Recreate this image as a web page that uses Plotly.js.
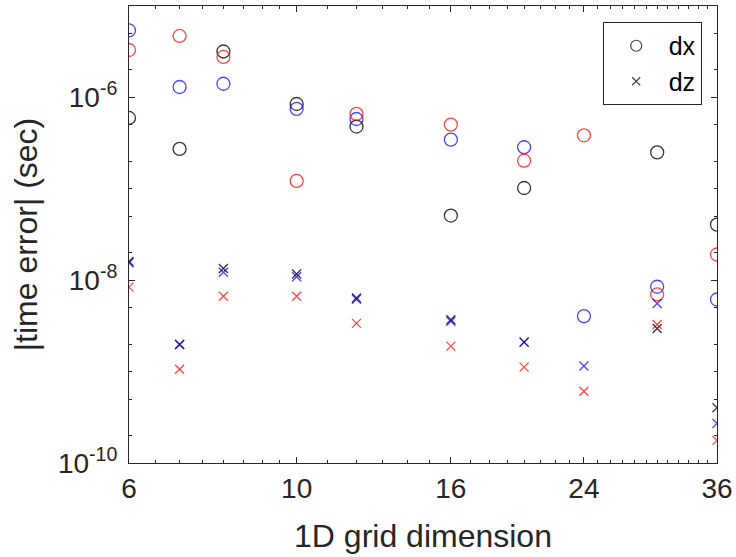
<!DOCTYPE html>
<html>
<head>
<meta charset="utf-8">
<script src="https://cdn.plot.ly/plotly-3.0.1.min.js"></script>
<style>html,body{margin:0;padding:0;background:#fff;}#chart{width:736px;height:557px;}</style>
</head>
<body>
<div id="chart"></div>
<script>
// Grid dimensions (x)
const gridN = [6, 7, 8, 10, 12, 16, 20, 24, 30, 36];

// |time error| for dx (circles)
const dxBlack = [5.96e-7, 2.73e-7, 3.18e-6, 8.47e-7, 4.8e-7, 5.1e-8, 1.02e-7, null, 2.5e-7, 4.06e-8];
const dxBlue  = [5.4e-6, 1.3e-6, 1.41e-6, 7.5e-7, 5.8e-7, 3.45e-7, 2.85e-7, 4.05e-9, 8.48e-9, 6.15e-9];
const dxRed   = [3.3e-6, 4.7e-6, 2.77e-6, 1.22e-7, 6.6e-7, 5.04e-7, 2.03e-7, 3.85e-7, 6.98e-9, 1.91e-8];

// |time error| for dz (crosses)
const dzBlack = [1.6e-8, 1.98e-9, 1.34e-8, 1.17e-8, 6.4e-9, 3.7e-9, 2.1e-9, null, 2.96e-9, 4.03e-10];
const dzBlue  = [1.55e-8, 1.98e-9, 1.22e-8, 1.09e-8, 6.2e-9, 3.55e-9, 2.1e-9, 1.15e-9, 5.56e-9, 2.71e-10];
const dzRed   = [8.4e-9, 1.06e-9, 6.68e-9, 6.68e-9, 3.37e-9, 1.9e-9, 1.12e-9, 6.1e-10, 3.28e-9, 1.77e-10];

const xTickVals = [6, 10, 16, 24, 36];
const xTickText = ['6', '10', '16', '24', '36'];
const yTickVals = [1e-10, 1e-8, 1e-6];
const yTickText = ['10<sup>-10</sup>', '10<sup>-8</sup>', '10<sup>-6</sup>'];
const legendNames = ['dx', 'dz'];

const cBlack = 'rgba(20,20,20,0.85)';
const cBlue = 'rgba(0,0,255,0.72)';
const cRed = 'rgba(255,0,0,0.72)';

function circ(y, color) {
  return {x: gridN, y: y, type: 'scatter', mode: 'markers', showlegend: false, hoverinfo: 'skip',
    marker: {symbol: 'circle-open', size: 13, color: color, line: {width: 1.3, color: color}}};
}
function cross(y, color) {
  return {x: gridN, y: y, type: 'scatter', mode: 'markers', showlegend: false, hoverinfo: 'skip',
    marker: {symbol: 'x-thin-open', size: 9, color: color, line: {width: 1.3, color: color}}};
}

const traces = [
  circ(dxBlack, cBlack), circ(dxBlue, cBlue), circ(dxRed, cRed),
  cross(dzBlack, cBlack), cross(dzBlue, cBlue), cross(dzRed, cRed),
  {x: [null], y: [null], type: 'scatter', mode: 'markers', name: legendNames[0], showlegend: true,
   marker: {symbol: 'circle-open', size: 11, color: '#444', line: {width: 1.2, color: '#444'}}},
  {x: [null], y: [null], type: 'scatter', mode: 'markers', name: legendNames[1], showlegend: true,
   marker: {symbol: 'x-thin-open', size: 8, color: '#444', line: {width: 1.2, color: '#444'}}}
];

const xMinor = [];
for (let v = 6.5; v < 10; v += 0.5) xMinor.push(v);
for (let v = 11; v < 36; v += 1) if (xTickVals.indexOf(v) < 0) xMinor.push(v);

const fontFam = '"Liberation Sans", Arial, Helvetica, sans-serif';
const layout = {
  width: 736, height: 557,
  margin: {l: 129, r: 19, t: 6, b: 94},
  paper_bgcolor: '#fff', plot_bgcolor: '#fff',
  font: {family: fontFam, size: 28, color: '#262626'},
  showlegend: true,
  legend: {x: 0.974, xanchor: 'right', y: 0.965, yanchor: 'top', bgcolor: '#fff',
    bordercolor: '#262626', borderwidth: 1, font: {size: 25, color: '#000'}, itemwidth: 55,
    tracegroupgap: 0},
  xaxis: {
    type: 'log', range: [Math.log10(6), Math.log10(36)],
    tickmode: 'array', tickvals: xTickVals, ticktext: xTickText,
    ticks: 'inside', ticklen: 6, tickcolor: '#262626', tickwidth: 1,
    showline: true, linecolor: '#262626', linewidth: 1, mirror: 'allticks',
    showgrid: false, zeroline: false,
    tickfont: {size: 28, color: '#262626'},
    minor: {tickmode: 'array', tickvals: xMinor, ticks: 'inside', ticklen: 3, tickcolor: '#262626', showgrid: false},
    title: {text: '1D grid dimension', font: {size: 32, color: '#262626'}, standoff: 22}
  },
  yaxis: {
    type: 'log', range: [-10, -5],
    tickmode: 'array', tickvals: yTickVals, ticktext: yTickText,
    ticks: 'inside', ticklen: 6, tickcolor: '#262626', tickwidth: 1,
    showline: true, linecolor: '#262626', linewidth: 1, mirror: 'allticks',
    showgrid: false, zeroline: false, ticklabelstandoff: 5,
    tickfont: {size: 28, color: '#262626'},
    minor: {ticks: 'inside', ticklen: 3, tickcolor: '#262626', showgrid: false},
    title: {text: '|time error| (sec)', font: {size: 32, color: '#262626'}, standoff: 10}
  }
};

Plotly.newPlot('chart', traces, layout, {displayModeBar: false, staticPlot: true});
</script>
</body>
</html>
